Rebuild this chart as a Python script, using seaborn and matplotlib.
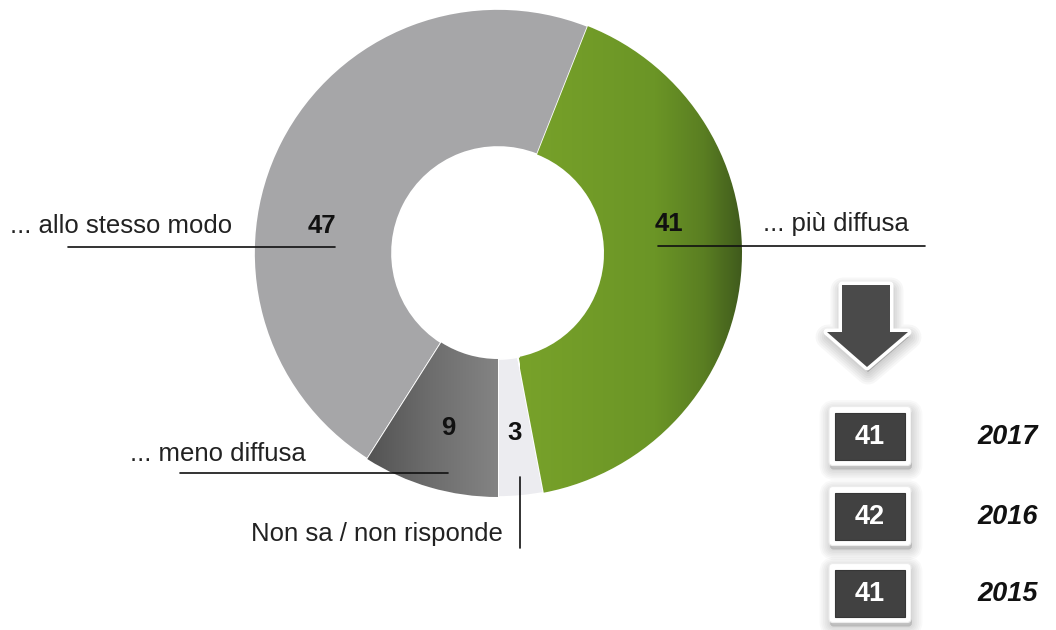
import numpy as np
import matplotlib
matplotlib.use("Agg")
import matplotlib.pyplot as plt
import seaborn as sns
from matplotlib.patches import Polygon, FancyBboxPatch, Rectangle
from matplotlib.colors import LinearSegmentedColormap

# Survey answers (percent), drawn counter-clockwise from the bottom of the ring
labels = ["Non sa / non risponde", "... più diffusa", "... allo stesso modo", "... meno diffusa"]
values = [3, 41, 47, 9]
# Trend of the "più diffusa" share over the years
trend_years = ["2017", "2016", "2015"]
trend_values = [41, 42, 41]

sns.set_theme(style="white")
plt.rcParams['font.family'] = ['Liberation Sans', 'DejaVu Sans']

W, H = 1056, 630
fig = plt.figure(figsize=(W / 100, H / 100), dpi=100)
ax = fig.add_axes([0, 0, 1, 1])

cx, cy, R, r_in = 498, 253, 244, 106
base_colors = ["#ececf0", "#6f9a25", "#a6a6a8", "#6a6a6a"]

wedges, _ = ax.pie(values, startangle=90, counterclock=False, center=(cx, cy),
                   radius=R, colors=base_colors,
                   wedgeprops=dict(width=R - r_in, edgecolor="white", linewidth=1.2))

# horizontal colour gradients on the green and dark-grey segments
grad = np.linspace(0, 1, 256).reshape(1, -1)
green_cmap = LinearSegmentedColormap.from_list(
    "g", [(0, "#78a22a"), (0.6, "#6b9526"), (0.82, "#5a7e22"), (1, "#3e581c")])
dark_cmap = LinearSegmentedColormap.from_list("d", ["#525252", "#6e6e6e", "#848484"])
for idx, cmap, (x0, x1) in [(1, green_cmap, (520, 745)), (3, dark_cmap, (365, 500))]:
    im = ax.imshow(grad, cmap=cmap, extent=(x0, x1, cy + R + 2, cy - R - 2),
                   aspect="auto", zorder=wedges[idx].get_zorder() + 0.1)
    im.set_clip_path(wedges[idx])

ax.set_xlim(0, W)
ax.set_ylim(H, 0)
ax.axis("off")

fs = 18.5
# value labels on the ring
val_pos = [(515, 440), (669, 231), (322, 233), (448, 435)]
for v, (x, y) in zip(values, val_pos):
    ax.text(x, y, f"{v}", ha="center", va="baseline", fontsize=fs,
            fontweight="bold", color="#111111", zorder=5)

# category labels with leader lines
ax.text(10, 233, labels[2], ha="left", va="baseline", fontsize=fs, color="#222222")
ax.plot([68, 335], [247, 247], color="#111111", lw=1.2, zorder=5)

ax.text(763, 231, labels[1], ha="left", va="baseline", fontsize=fs, color="#222222")
ax.plot([658, 925], [245.5, 245.5], color="#111111", lw=1.2, zorder=5)

ax.text(130, 461, labels[3], ha="left", va="baseline", fontsize=fs, color="#222222")
ax.plot([180, 448], [473, 473], color="#111111", lw=1.2, zorder=5)

ax.text(503, 541, labels[0], ha="right", va="baseline", fontsize=fs, color="#222222")
ax.plot([520, 520], [477, 548], color="#111111", lw=1.2, zorder=5)


def soft_shadow(patch_factory, dx=2, dy=5, steps=6, spread=2.0, alpha=0.03):
    for k in range(steps, 0, -1):
        p = patch_factory(dx, dy)
        p.set_facecolor("#000000")
        p.set_edgecolor("#000000")
        p.set_linewidth(k * spread)
        p.set_alpha(alpha)
        p.set_zorder(6)
        ax.add_patch(p)


# downward arrow
arrow_pts = np.array([(842, 285), (890, 285), (890, 332), (908, 332),
                      (867, 367), (827, 332), (842, 332)])


def arrow_patch(dx, dy):
    return Polygon(arrow_pts + np.array([dx, dy]), closed=True, joinstyle="round")


soft_shadow(arrow_patch, dx=1, dy=5, steps=6, spread=3.0, alpha=0.03)
ax.add_patch(Polygon(arrow_pts, closed=True, facecolor="#4a4a4a", edgecolor="white",
                     linewidth=5, joinstyle="round", zorder=7))
ax.add_patch(Polygon(arrow_pts, closed=True, facecolor="#4a4a4a", edgecolor="none",
                     zorder=7.1))

# trend boxes
box_centers = [436, 516, 593]
bw, bh = 70, 47
bx0 = 835
for yc, val, yr in zip(box_centers, trend_values, trend_years):
    y0 = yc - bh / 2

    def box_patch(dx, dy, y0=y0):
        return FancyBboxPatch((bx0 - 6 + dx, y0 - 6 + dy), bw + 12, bh + 12,
                              boxstyle="round,pad=0,rounding_size=4")

    soft_shadow(box_patch, dx=1, dy=4, steps=6, spread=2.5, alpha=0.025)
    ax.add_patch(FancyBboxPatch((bx0 - 6, y0 - 6), bw + 12, bh + 12,
                                boxstyle="round,pad=0,rounding_size=4",
                                facecolor="white", edgecolor="#ececec",
                                linewidth=0.8, zorder=7))
    ax.add_patch(Rectangle((bx0, y0), bw, bh, facecolor="#414141",
                           edgecolor="#363636", linewidth=0.8, zorder=8))
    ax.text(bx0 + bw / 2, yc + 1, f"{val}", ha="center", va="center",
            fontsize=fs + 1, fontweight="bold", color="white", zorder=9)
    ax.text(1008, yc + 1, yr, ha="center", va="center", fontsize=fs + 1,
            fontweight="bold", fontstyle="italic", color="#111111", zorder=9)

fig.savefig("out.png", dpi=100, facecolor="white")
